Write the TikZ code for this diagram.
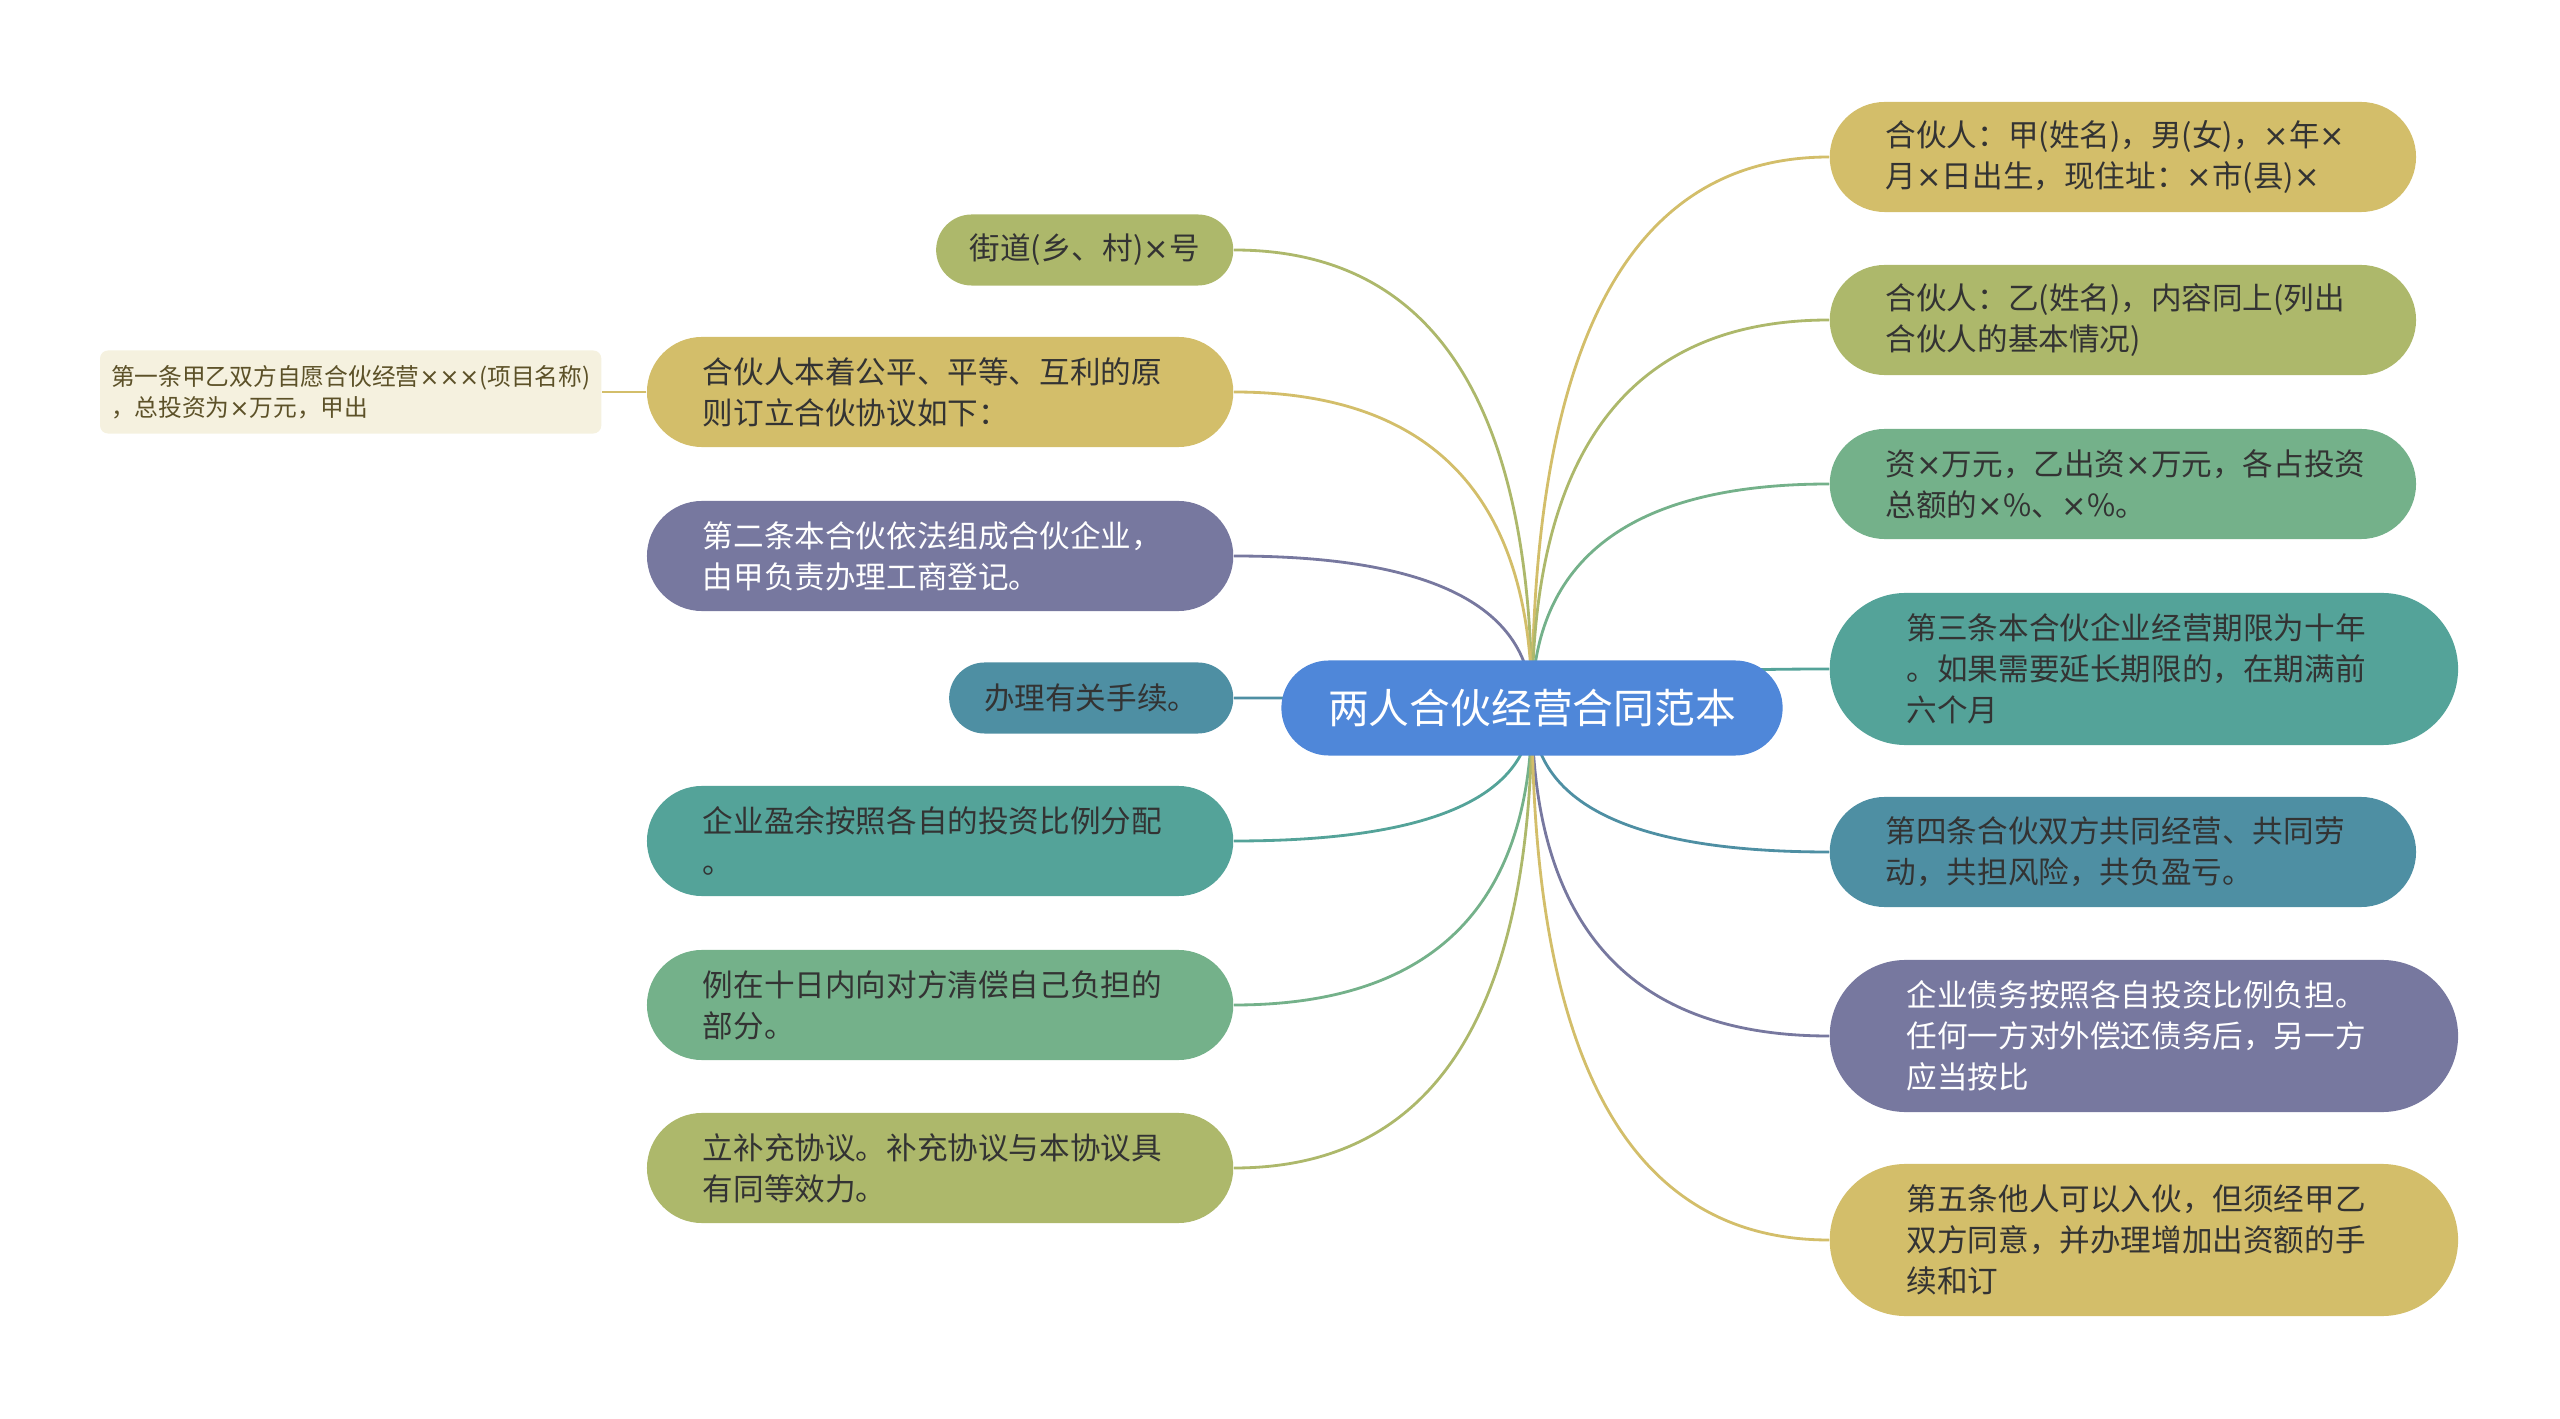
\documentclass[tikz,border=0pt]{standalone}
\usepackage{fontspec}
\usepackage{xcolor}
\usepackage{tikz}
\usetikzlibrary{shapes.misc,backgrounds,calc}

\newfontfamily\cjk{Noto Sans CJK SC}
\newfontfamily\symfont{DejaVu Sans}
\newcommand{\mul}{{\symfont ×}}

\definecolor{rootblue}{HTML}{4F87D9}
\definecolor{goldfill}{HTML}{D3BE6A}
\definecolor{olivefill}{HTML}{ADB86B}
\definecolor{greenfill}{HTML}{74B18A}
\definecolor{tealfill}{HTML}{54A399}
\definecolor{bluefill}{HTML}{4E8FA3}
\definecolor{purplefill}{HTML}{77789F}
\definecolor{leaffill}{HTML}{F5F1DF}
\definecolor{darktext}{HTML}{333333}
\definecolor{leaftext}{HTML}{5C5128}

\begin{document}
\begin{tikzpicture}[
    x=0.01cm, y=-0.01cm,
    root/.style={
        rounded rectangle,
        fill=rootblue,
        minimum width=5.01cm,
        minimum height=0.95cm,
        inner sep=0pt,
        text=white,
        font=\cjk\fontsize{11.6}{14}\selectfont
    },
    topic/.style={
        rounded rectangle,
        minimum width=5.86cm,
        minimum height=1.1cm,
        inner sep=0pt,
        text width=4.74cm,
        align=left,
        text=darktext,
        font=\cjk\fontsize{8.7}{11.7}\selectfont
    },
    longtopic/.style={
        minimum width=6.28cm,
        minimum height=1.52cm
    },
    chip/.style={
        rounded rectangle,
        minimum height=0.71cm,
        inner sep=0pt,
        text=darktext,
        font=\cjk\fontsize{8.7}{11.7}\selectfont
    },
    leaf/.style={
        rectangle,
        rounded corners=0.08cm,
        fill=leaffill,
        minimum width=5.01cm,
        minimum height=0.83cm,
        inner xsep=0.1cm,
        align=left,
        text=leaftext,
        font=\cjk\fontsize{6.75}{8.8}\selectfont
    },
    link/.style={
        line width=0.8pt
    },
    curvelink/.style={
        to path={.. controls ($(\tikztostart)!0.667!(\tikztostart |- \tikztotarget)$)
            and ($(\tikztotarget)!0.667!(\tikztostart |- \tikztotarget)$) .. (\tikztotarget)}
    }
]
\useasboundingbox (0,0) rectangle (2560,1419);

% Central topic
\node[root] (centre) at (1532, 708) {两人合伙经营合同范本};

% Left branches
\node[chip, minimum width=2.97cm, fill=olivefill, anchor=east] (jiedao) at (1234, 250) {街道(乡、村)\mul 号};
\node[topic, fill=goldfill, anchor=east] (yuanze) at (1234, 392) {合伙人本着公平、平等、互利的原\\则订立合伙协议如下：};
\node[leaf, anchor=east] (diyitiao) at (602, 392) {第一条甲乙双方自愿合伙经营\mul\mul\mul(项目名称)\\，总投资为\mul 万元，甲出};
\node[topic, fill=purplefill, text=white, anchor=east] (dengji) at (1234, 556) {第二条本合伙依法组成合伙企业，\\由甲负责办理工商登记。};
\node[chip, minimum width=2.84cm, fill=bluefill, anchor=east] (shouxu) at (1234, 698) {办理有关手续。};
\node[topic, fill=tealfill, anchor=east] (yingyu) at (1234, 841) {企业盈余按照各自的投资比例分配\\。};
\node[topic, fill=greenfill, anchor=east] (qingchang) at (1234, 1005) {例在十日内向对方清偿自己负担的\\部分。};
\node[topic, fill=olivefill, anchor=east] (buchong) at (1234, 1168) {立补充协议。补充协议与本协议具\\有同等效力。};

% Right branches
\node[topic, fill=goldfill, anchor=west] (jia) at (1829, 157) {合伙人：甲(姓名)，男(女)，\mul 年\mul\\月\mul 日出生，现住址：\mul 市(县)\mul};
\node[topic, fill=olivefill, anchor=west] (yi) at (1829, 320) {合伙人：乙(姓名)，内容同上(列出\\合伙人的基本情况)};
\node[topic, fill=greenfill, anchor=west] (chuzi) at (1829, 484) {资\mul 万元，乙出资\mul 万元，各占投资\\总额的\mul\%、\mul\%。};
\node[topic, longtopic, fill=tealfill, anchor=west] (qixian) at (1829, 669) {第三条本合伙企业经营期限为十年\\。如果需要延长期限的，在期满前\\六个月};
\node[topic, fill=bluefill, anchor=west] (gongying) at (1829, 852) {第四条合伙双方共同经营、共同劳\\动，共担风险，共负盈亏。};
\node[topic, longtopic, fill=purplefill, text=white, anchor=west] (zhaiwu) at (1829, 1036) {企业债务按照各自投资比例负担。\\任何一方对外偿还债务后，另一方\\应当按比};
\node[topic, longtopic, fill=goldfill, anchor=west] (ruhuo) at (1829, 1240) {第五条他人可以入伙，但须经甲乙\\双方同意，并办理增加出资额的手\\续和订};

% Connectors
\begin{scope}[on background layer]
\draw[link, curvelink, draw=olivefill] (centre.center) to (jiedao.east);
\draw[link, curvelink, draw=goldfill] (centre.center) to (yuanze.east);
\draw[link, draw=goldfill] (yuanze.west) -- (diyitiao.east);
\draw[link, curvelink, draw=purplefill] (centre.center) to (dengji.east);
\draw[link, curvelink, draw=bluefill] (centre.center) to (shouxu.east);
\draw[link, curvelink, draw=tealfill] (centre.center) to (yingyu.east);
\draw[link, curvelink, draw=greenfill] (centre.center) to (qingchang.east);
\draw[link, curvelink, draw=olivefill] (centre.center) to (buchong.east);
\draw[link, curvelink, draw=goldfill] (centre.center) to (jia.west);
\draw[link, curvelink, draw=olivefill] (centre.center) to (yi.west);
\draw[link, curvelink, draw=greenfill] (centre.center) to (chuzi.west);
\draw[link, curvelink, draw=tealfill] (centre.center) to (qixian.west);
\draw[link, curvelink, draw=bluefill] (centre.center) to (gongying.west);
\draw[link, curvelink, draw=purplefill] (centre.center) to (zhaiwu.west);
\draw[link, curvelink, draw=goldfill] (centre.center) to (ruhuo.west);
\end{scope}

\end{tikzpicture}
\end{document}
